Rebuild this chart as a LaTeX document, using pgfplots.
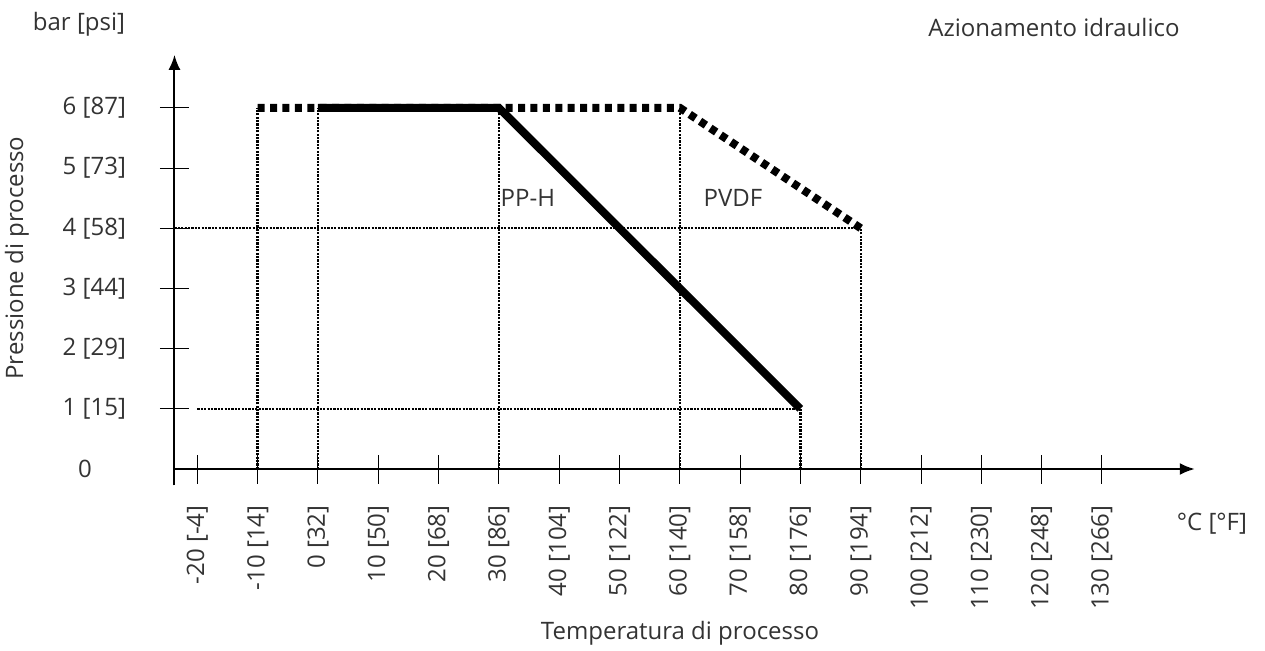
\documentclass[border=0pt]{standalone}
\usepackage{pgfplots}
\pgfplotsset{compat=1.18}
\usepackage{fontspec}
\setmainfont{Open Sans}
\usetikzlibrary{arrows.meta}
\definecolor{txt}{HTML}{333333}
\begin{document}
\begin{tikzpicture}[font=\fontsize{12}{14}\selectfont]
\useasboundingbox (-159pt,-90.5pt) rectangle (473.5pt,234.5pt);
\begin{axis}[
  anchor=origin, at={(0pt,0pt)},
  x=3.015pt, y=30.1pt,
  xmin=-23.8, xmax=145.4, ymin=-0.27, ymax=6.88,
  axis x line=middle, axis y line=left,
  axis line style={line width=1pt, -{Latex[length=7.5pt,width=6pt]}},
  clip=false,
  xtick={-20,-10,0,10,20,30,40,50,60,70,80,90,100,110,120,130},
  xticklabels={-20 [-4],-10 [14],0 [32],10 [50],20 [68],30 [86],40 [104],50 [122],60 [140],70 [158],80 [176],90 [194],100 [212],110 [230],120 [248],130 [266]},
  ytick={1,2,3,4,5,6},
  yticklabels={1 [15],2 [29],3 [44],4 [58],5 [73],6 [87]},
  tick align=center,
  major tick length=14.5pt,
  tick style={line width=0.5pt, black},
  xticklabel style={rotate=90, anchor=east, text=txt, font=\fontsize{12}{14}\selectfont},
  yticklabel style={anchor=east, text=txt, font=\fontsize{12}{14}\selectfont},
  xticklabel shift=7.5pt,
  yticklabel shift=13.5pt,
  /pgf/number format/assume math mode=true,
]
% dotted guide lines
\addplot[black, line width=1.2pt, dash pattern=on 1.1pt off 0.6pt] coordinates {(-10,0) (-10,6)};
\addplot[black, line width=1.2pt, dash pattern=on 1.1pt off 0.6pt] coordinates {(0,0) (0,6)};
\addplot[black, line width=1.2pt, dash pattern=on 1.1pt off 0.6pt] coordinates {(30,0) (30,6)};
\addplot[black, line width=1.2pt, dash pattern=on 1.1pt off 0.6pt] coordinates {(60,0) (60,6)};
\addplot[black, line width=1.2pt, dash pattern=on 1.1pt off 0.6pt] coordinates {(80,0) (80,1)};
\addplot[black, line width=1.2pt, dash pattern=on 1.1pt off 0.6pt] coordinates {(90,0) (90,4)};
\addplot[black, line width=1.2pt, dash pattern=on 1.1pt off 0.6pt] coordinates {(-23.8,4) (90,4)};
\addplot[black, line width=1.2pt, dash pattern=on 1.1pt off 0.6pt] coordinates {(-20,1) (80,1)};
% PVDF
\addplot[black, line width=4pt, dash pattern=on 3.5pt off 2.7pt] coordinates {(-10,6) (60,6) (90,4)};
% PP-H
\addplot[black, line width=4pt, line join=miter] coordinates {(0,6) (30,6) (80,1)};
\node[text=txt] at (axis cs:34.8,4.5) {PP-H};
\node[text=txt] at (axis cs:68.8,4.5) {PVDF};
\end{axis}
\node[text=txt] at (-119.5pt,222.5pt) {bar [psi]};
\node[text=txt] at (368pt,221pt) {Azionamento idraulico};
\node[text=txt, rotate=90] at (-150.5pt,105.5pt) {Pressione di processo};
\node[text=txt] at (181pt,-82pt) {Temperatura di processo};
\node[text=txt] at (447pt,-27.5pt) {°C [°F]};
\node[text=txt] at (-116.5pt,0pt) {0};
\end{tikzpicture}
\end{document}
